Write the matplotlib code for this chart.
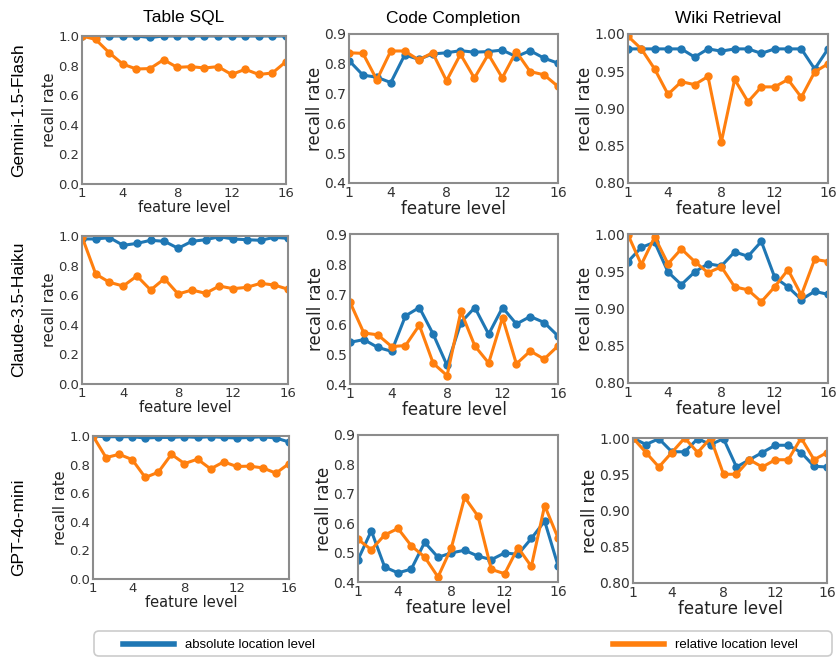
import matplotlib
matplotlib.use("Agg")
import matplotlib.pyplot as plt
import matplotlib.patches as mpatches
import matplotlib.transforms as mtransforms
import numpy as np

# feature levels
levels = np.arange(1, 17)

tasks = ["Table SQL", "Code Completion", "Wiki Retrieval"]
models = ["Gemini-1.5-Flash", "Claude-3.5-Haiku", "GPT-4o-mini"]

# Gemini-1.5-Flash
gem_sql_abs = [1.0, 1.0, 1.0, 1.0, 1.0, 0.99, 1.0, 1.0, 1.0, 1.0, 1.0, 1.0, 1.0, 1.0, 1.0, 1.0]
gem_sql_rel = [1.0, 0.977, 0.887, 0.81, 0.777, 0.78, 0.84, 0.788, 0.793, 0.784, 0.793, 0.74, 0.775, 0.74, 0.75, 0.827]
gem_code_abs = [0.811, 0.762, 0.755, 0.737, 0.83, 0.815, 0.833, 0.837, 0.844, 0.839, 0.841, 0.846, 0.824, 0.844, 0.819, 0.802]
gem_code_rel = [0.837, 0.835, 0.746, 0.843, 0.843, 0.813, 0.837, 0.743, 0.832, 0.752, 0.832, 0.753, 0.841, 0.774, 0.763, 0.724]
gem_wiki_abs = [0.98, 0.98, 0.98, 0.98, 0.98, 0.969, 0.98, 0.977, 0.98, 0.98, 0.974, 0.98, 0.98, 0.98, 0.953, 0.98]
gem_wiki_rel = [0.997, 0.98, 0.953, 0.919, 0.936, 0.932, 0.943, 0.855, 0.939, 0.909, 0.929, 0.929, 0.939, 0.915, 0.949, 0.96]

# Claude-3.5-Haiku
cla_sql_abs = [0.98, 0.98, 0.989, 0.937, 0.95, 0.971, 0.964, 0.917, 0.964, 0.975, 0.995, 0.98, 0.975, 0.971, 0.991, 0.984]
cla_sql_rel = [0.995, 0.743, 0.687, 0.662, 0.73, 0.635, 0.712, 0.608, 0.635, 0.613, 0.662, 0.644, 0.653, 0.68, 0.669, 0.64]
cla_code_abs = [0.539, 0.548, 0.522, 0.509, 0.627, 0.655, 0.566, 0.462, 0.605, 0.655, 0.566, 0.655, 0.6, 0.625, 0.605, 0.56]
cla_code_rel = [0.673, 0.57, 0.564, 0.525, 0.528, 0.596, 0.469, 0.428, 0.642, 0.527, 0.47, 0.621, 0.467, 0.51, 0.483, 0.527]
cla_wiki_abs = [0.963, 0.982, 0.989, 0.949, 0.932, 0.949, 0.96, 0.957, 0.976, 0.97, 0.99, 0.942, 0.929, 0.912, 0.923, 0.919]
cla_wiki_rel = [0.999, 0.959, 0.996, 0.96, 0.98, 0.963, 0.948, 0.956, 0.929, 0.925, 0.909, 0.929, 0.952, 0.918, 0.966, 0.963]

# GPT-4o-mini
gpt_sql_abs = [1.0, 0.995, 0.995, 0.995, 0.986, 0.99, 0.99, 0.995, 0.99, 0.995, 0.99, 0.986, 0.99, 0.995, 0.986, 0.958]
gpt_sql_rel = [1.0, 0.849, 0.872, 0.835, 0.71, 0.747, 0.872, 0.807, 0.838, 0.77, 0.819, 0.787, 0.789, 0.777, 0.74, 0.807]
gpt_code_abs = [0.476, 0.574, 0.451, 0.431, 0.444, 0.535, 0.484, 0.499, 0.508, 0.488, 0.476, 0.499, 0.494, 0.548, 0.607, 0.456]
gpt_code_rel = [0.545, 0.51, 0.56, 0.582, 0.523, 0.485, 0.417, 0.516, 0.688, 0.624, 0.443, 0.428, 0.517, 0.453, 0.66, 0.55]
gpt_wiki_abs = [1.0, 0.991, 0.999, 0.981, 0.981, 0.999, 0.991, 0.999, 0.96, 0.97, 0.98, 0.99, 0.99, 0.98, 0.961, 0.96]
gpt_wiki_rel = [1.0, 0.98, 0.96, 0.98, 1.0, 0.98, 1.0, 0.95, 0.95, 0.97, 0.96, 0.97, 0.97, 1.0, 0.97, 0.98]

data = [
    [(gem_sql_abs, gem_sql_rel), (gem_code_abs, gem_code_rel), (gem_wiki_abs, gem_wiki_rel)],
    [(cla_sql_abs, cla_sql_rel), (cla_code_abs, cla_code_rel), (cla_wiki_abs, cla_wiki_rel)],
    [(gpt_sql_abs, gpt_sql_rel), (gpt_code_abs, gpt_code_rel), (gpt_wiki_abs, gpt_wiki_rel)],
]

ylims = [(0.0, 1.0), (0.4, 0.9), (0.8, 1.0)]
yticks = [np.arange(0, 1.01, 0.2), np.arange(0.4, 0.91, 0.1), np.arange(0.8, 1.001, 0.05)]
yfmt = ["%.1f", "%.1f", "%.2f"]

# axes boxes in pixels: left, top, right, bottom
W, H = 837, 657
boxes = [
    [(82, 36, 286, 184), (349, 34, 558, 183), (628, 34, 828, 183)],
    [(82, 236, 288, 384), (350, 234, 558, 384), (628, 234, 828, 383)],
    [(93, 436, 289, 579), (358, 435, 558, 582), (633, 438, 827, 583)],
]

fig = plt.figure(figsize=(W / 100, H / 100), dpi=100)
sans = ["Liberation Sans", "DejaVu Sans"]

for r in range(3):
    for c in range(3):
        l, t, rr, b = boxes[r][c]
        ax = fig.add_axes([l / W, 1 - b / H, (rr - l) / W, (b - t) / H])
        a, rel = data[r][c]
        ax.plot(levels, a, color="tab:blue", marker="o", markersize=5, linewidth=2.2)
        ax.plot(levels, rel, color="tab:orange", marker="o", markersize=5, linewidth=2.2)
        ax.set_xlim(1, 16)
        ax.set_ylim(*ylims[c])
        ax.set_xticks([1, 4, 8, 12, 16])
        ax.set_yticks(yticks[c])
        ax.set_yticklabels([yfmt[c] % v for v in yticks[c]])
        small = c == 0
        ax.tick_params(length=0, pad=2, labelsize=9.5 if small else 10, colors="#333333")
        ax.set_xlabel("feature level", fontsize=10.5 if small else 12, labelpad=0, color="#222222")
        ax.set_ylabel("recall rate", fontsize=10.5 if small else 12, labelpad=1 if small else 0,
                      color="#222222")
        for s in ax.spines.values():
            s.set_color("#8c8c8c")
            s.set_linewidth(1.5)
        if r == 0:
            ax.set_title(tasks[c], fontsize=12.5, family=sans, pad=10 if small else 8)

# row labels
for y, m in zip([110, 309, 527], models):
    fig.text(19 / W, 1 - y / H, m, rotation=90, ha="center", va="center", fontsize=12.5, family=sans)

# legend frame (pixel coordinates)
frame = mpatches.FancyBboxPatch((94, H - 656), 832 - 94, 25, boxstyle="round,pad=0,rounding_size=5",
                                transform=mtransforms.IdentityTransform(), facecolor="white",
                                edgecolor="#cccccc", linewidth=1.2)
fig.patches.append(frame)

h1, = plt.plot([], [], color="tab:blue", linewidth=4)
h2, = plt.plot([], [], color="tab:orange", linewidth=4)
for h, lab, x0 in [(h1, "absolute location level", 123), (h2, "relative location level", 613)]:
    fig.legend([h], [lab], loc="center left", bbox_to_anchor=(x0 / W, 1 - 645 / H),
               prop={"family": sans, "size": 9.5}, handlelength=3.9, handletextpad=0.8,
               frameon=False, borderpad=0, borderaxespad=0)

fig.savefig("out.png", dpi=100)
